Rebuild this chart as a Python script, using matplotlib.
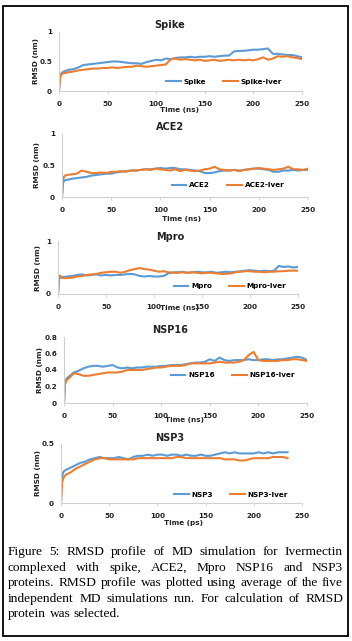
import matplotlib
matplotlib.use("Agg")
import matplotlib.pyplot as plt
from matplotlib.patches import Rectangle

# ---- data (RMSD in nm) ----
t_main = [0, 1, 2, 3] + list(range(5, 251, 5))
t_nsp3 = [0, 1, 2, 3] + list(range(5, 236, 5))

spike = [0.0, 0.25, 0.29, 0.31,
         0.33, 0.36, 0.37, 0.40, 0.44, 0.45, 0.46, 0.47, 0.48, 0.49,
         0.50, 0.50, 0.49, 0.48, 0.47, 0.47, 0.46, 0.49, 0.51, 0.53,
         0.52, 0.55, 0.54, 0.56, 0.57, 0.57, 0.58, 0.57, 0.58, 0.58,
         0.59, 0.58, 0.59, 0.60, 0.60, 0.67, 0.68, 0.68, 0.69, 0.70,
         0.70, 0.71, 0.72, 0.63, 0.63, 0.62, 0.61, 0.61, 0.59, 0.57]
spike_iver = [0.0, 0.22, 0.27, 0.29,
              0.30, 0.32, 0.33, 0.35, 0.36, 0.37, 0.38, 0.38, 0.39, 0.39,
              0.40, 0.39, 0.40, 0.41, 0.41, 0.43, 0.42, 0.41, 0.42, 0.43,
              0.44, 0.45, 0.54, 0.55, 0.53, 0.54, 0.53, 0.52, 0.53, 0.51,
              0.52, 0.53, 0.51, 0.52, 0.53, 0.52, 0.53, 0.52, 0.53, 0.52,
              0.54, 0.57, 0.53, 0.55, 0.59, 0.58, 0.59, 0.57, 0.56, 0.54]

ace2 = [0.0, 0.22, 0.25, 0.27,
        0.27, 0.29, 0.30, 0.31, 0.32, 0.34, 0.35, 0.36, 0.37, 0.37,
        0.39, 0.40, 0.41, 0.42, 0.42, 0.43, 0.44, 0.44, 0.45, 0.46,
        0.45, 0.46, 0.46, 0.44, 0.44, 0.43, 0.42, 0.41, 0.38, 0.38,
        0.39, 0.41, 0.42, 0.42, 0.43, 0.42, 0.43, 0.44, 0.45, 0.45,
        0.44, 0.43, 0.40, 0.40, 0.42, 0.42, 0.43, 0.42, 0.43, 0.43]
ace2_iver = [0.0, 0.28, 0.32, 0.34,
             0.35, 0.36, 0.37, 0.42, 0.40, 0.38, 0.38, 0.39, 0.38, 0.40,
             0.40, 0.41, 0.40, 0.42, 0.42, 0.43, 0.44, 0.43, 0.45, 0.44,
             0.43, 0.42, 0.44, 0.41, 0.43, 0.42, 0.41, 0.42, 0.44, 0.45,
             0.48, 0.44, 0.43, 0.42, 0.43, 0.41, 0.43, 0.44, 0.45, 0.46,
             0.45, 0.44, 0.43, 0.44, 0.45, 0.48, 0.44, 0.44, 0.43, 0.45]

mpro = [0.0, 0.28, 0.32, 0.31,
        0.32, 0.33, 0.34, 0.36, 0.37, 0.35, 0.36, 0.37, 0.35, 0.36,
        0.35, 0.36, 0.36, 0.37, 0.38, 0.37, 0.34, 0.33, 0.34, 0.33,
        0.33, 0.34, 0.39, 0.41, 0.41, 0.42, 0.40, 0.41, 0.42, 0.41,
        0.41, 0.42, 0.40, 0.41, 0.42, 0.41, 0.42, 0.43, 0.44, 0.45,
        0.44, 0.43, 0.44, 0.43, 0.44, 0.53, 0.51, 0.52, 0.50, 0.51]
mpro_iver = [0.0, 0.33, 0.35, 0.32,
             0.30, 0.30, 0.31, 0.33, 0.34, 0.36, 0.37, 0.38, 0.40, 0.41,
             0.42, 0.42, 0.40, 0.42, 0.45, 0.47, 0.49, 0.47, 0.46, 0.44,
             0.42, 0.43, 0.41, 0.40, 0.40, 0.41, 0.40, 0.41, 0.40, 0.39,
             0.40, 0.40, 0.39, 0.38, 0.38, 0.39, 0.41, 0.42, 0.43, 0.43,
             0.42, 0.42, 0.41, 0.42, 0.42, 0.43, 0.43, 0.44, 0.44, 0.44]

nsp16 = [0.0, 0.24, 0.28, 0.30,
         0.32, 0.37, 0.39, 0.42, 0.44, 0.45, 0.45, 0.44, 0.45, 0.46,
         0.43, 0.42, 0.43, 0.42, 0.43, 0.43, 0.44, 0.44, 0.44, 0.45,
         0.45, 0.46, 0.46, 0.46, 0.47, 0.48, 0.49, 0.49, 0.50, 0.53,
         0.51, 0.55, 0.52, 0.51, 0.52, 0.52, 0.52, 0.53, 0.52, 0.52,
         0.53, 0.53, 0.52, 0.53, 0.53, 0.54, 0.55, 0.56, 0.55, 0.52]
nsp16_iver = [0.0, 0.22, 0.26, 0.28,
              0.30, 0.36, 0.35, 0.33, 0.33, 0.34, 0.35, 0.36, 0.37, 0.37,
              0.37, 0.38, 0.40, 0.40, 0.40, 0.40, 0.41, 0.42, 0.43, 0.43,
              0.44, 0.45, 0.45, 0.45, 0.46, 0.48, 0.48, 0.48, 0.48, 0.48,
              0.49, 0.50, 0.49, 0.49, 0.49, 0.50, 0.52, 0.58, 0.62, 0.52,
              0.51, 0.51, 0.51, 0.51, 0.52, 0.52, 0.53, 0.53, 0.52, 0.51]

nsp3 = [0.0, 0.22, 0.25, 0.27,
        0.28, 0.30, 0.32, 0.34, 0.35, 0.37, 0.38, 0.39, 0.38, 0.38,
        0.38, 0.39, 0.38, 0.37, 0.39, 0.40, 0.40, 0.41, 0.40, 0.41,
        0.41, 0.40, 0.41, 0.41, 0.40, 0.41, 0.40, 0.40, 0.41, 0.40,
        0.40, 0.41, 0.42, 0.43, 0.42, 0.43, 0.42, 0.42, 0.42, 0.42,
        0.43, 0.42, 0.43, 0.42, 0.43, 0.43, 0.43]
nsp3_iver = [0.0, 0.17, 0.20, 0.22,
             0.24, 0.26, 0.29, 0.31, 0.33, 0.35, 0.37, 0.38, 0.38, 0.37,
             0.37, 0.37, 0.37, 0.37, 0.37, 0.38, 0.38, 0.38, 0.38, 0.38,
             0.38, 0.38, 0.38, 0.39, 0.39, 0.38, 0.38, 0.38, 0.38, 0.38,
             0.38, 0.38, 0.38, 0.37, 0.37, 0.37, 0.36, 0.36, 0.37, 0.38,
             0.38, 0.38, 0.38, 0.39, 0.39, 0.39, 0.38]

cap_lines = ["Figure 5: RMSD profile of MD simulation for Ivermectin",
             "complexed with spike, ACE2, Mpro NSP16 and NSP3",
             "proteins. RMSD profile was plotted using average of the five",
             "independent MD simulations run. For calculation of RMSD",
             "protein was selected."]

BLUE = "#5b9bd5"
ORANGE = "#ed7d31"
GREY = "#d0d0d0"
W, H = 352, 641

fig = plt.figure(figsize=(W / 100, H / 100), dpi=100)


def fx(x):
    return x / W


def fy(y):
    return 1 - y / H


# panel layout in pixels: (x0, x1, y_top, y_bottom)
panels = [
    dict(name="Spike", t=t_main, a=spike, b=spike_iver, box=(59, 302, 32, 91),
         ymax=1, yticks=[0, 0.5, 1], ylab=["0", "0.5", "1"], title_y=25,
         xl="Time (ns)", xl_pos=(180, 110), yl_x=36, leg=(224, 82)),
    dict(name="ACE2", t=t_main, a=ace2, b=ace2_iver, box=(62, 308, 134, 197),
         ymax=1, yticks=[0, 0.5, 1], ylab=["0", "0.5", "1"], title_y=127,
         xl="Time (ns)", xl_pos=(182, 219), yl_x=37, leg=(228, 185)),
    dict(name="Mpro", t=t_main, a=mpro, b=mpro_iver, box=(58, 298, 241, 294),
         ymax=1, yticks=[0, 1], ylab=["0", "1"], title_y=237,
         xl="Time (ns)", xl_pos=(180, 308), yl_x=38, leg=(230, 286)),
    dict(name="NSP16", t=t_main, a=nsp16, b=nsp16_iver, box=(64, 307, 337, 403),
         ymax=0.8, yticks=[0, 0.2, 0.4, 0.6, 0.8],
         ylab=["0", "0.2", "0.4", "0.6", "0.8"], title_y=330,
         xl="Time (ns)", xl_pos=(185, 420), yl_x=40, leg=(233, 375)),
    dict(name="NSP3", t=t_nsp3, a=nsp3, b=nsp3_iver, box=(61, 302, 444, 503),
         ymax=0.5, yticks=[0, 0.5], ylab=["0", "0.5"], title_y=438,
         xl="Time (ps)", xl_pos=(183, 523), yl_x=38, leg=(231, 495)),
]

tick_font = dict(family="DejaVu Sans", size=5.2, weight="bold")

for p in panels:
    x0, x1, yt, yb = p["box"]
    ax = fig.add_axes([fx(x0), fy(yb), (x1 - x0) / W, (yb - yt) / H])
    ax.plot(p["t"], p["a"], color=BLUE, lw=1.5, label=p["name"])
    ax.plot(p["t"], p["b"], color=ORANGE, lw=1.5, label=p["name"] + "-Iver")
    ax.set_xlim(0, 250)
    ax.set_ylim(0, p["ymax"])
    ax.set_xticks([0, 50, 100, 150, 200, 250])
    ax.set_yticks(p["yticks"])
    ax.set_yticklabels(p["ylab"])
    for s in ["top", "right"]:
        ax.spines[s].set_visible(False)
    for s in ["left", "bottom"]:
        ax.spines[s].set_color(GREY)
        ax.spines[s].set_linewidth(0.8)
    ax.tick_params(axis="x", length=2.5, width=0.6, color=GREY, pad=5)
    ax.tick_params(axis="y", length=0, pad=5)
    for lab in ax.get_xticklabels() + ax.get_yticklabels():
        lab.set_fontproperties(tick_font)
        lab.set_color("#222222")
    ax.patch.set_alpha(0)

    fig.text(fx(170), fy(p["title_y"]), p["name"], ha="center", va="center",
             fontsize=7, fontweight="bold", color="#222222")
    fig.text(fx(p["xl_pos"][0]), fy(p["xl_pos"][1]), p["xl"], ha="center",
             va="center", fontsize=5.2, fontweight="bold", color="#222222")
    fig.text(fx(p["yl_x"]), fy((yt + yb) / 2), "RMSD (nm)", rotation=90,
             ha="center", va="center", fontsize=5.2, fontweight="bold",
             color="#222222")
    ax.legend(loc="center", bbox_to_anchor=(fx(p["leg"][0]), fy(p["leg"][1])),
              bbox_transform=fig.transFigure, ncol=2, frameon=False,
              handlelength=2.0, handletextpad=0.4, columnspacing=2.4,
              prop=dict(family="DejaVu Sans", size=5.2, weight="bold"))

# outer frame
fig.patches.append(Rectangle((fx(3), fy(636)), (348 - 3) / W, (636 - 6) / H,
                             transform=fig.transFigure, fill=False,
                             edgecolor="black", linewidth=1.3))

# justified caption
line_y = [552, 568, 583, 599, 614]
left, right = 8, 343
renderer = fig.canvas.get_renderer()
cap_font = dict(family="Liberation Serif", size=9.6, color="#000000")
for i, (line, yy) in enumerate(zip(cap_lines, line_y)):
    words = line.split()
    texts = [fig.text(0, fy(yy), w, va="center", ha="left", **cap_font)
             for w in words]
    widths = [t.get_window_extent(renderer).width for t in texts]
    if i < len(cap_lines) - 1:
        gap = (right - left - sum(widths)) / (len(words) - 1)
    else:
        gap = 3.5
    xpos = left
    for t, w in zip(texts, widths):
        t.set_x(fx(xpos))
        xpos += w + gap

fig.savefig("out.png", dpi=100)
